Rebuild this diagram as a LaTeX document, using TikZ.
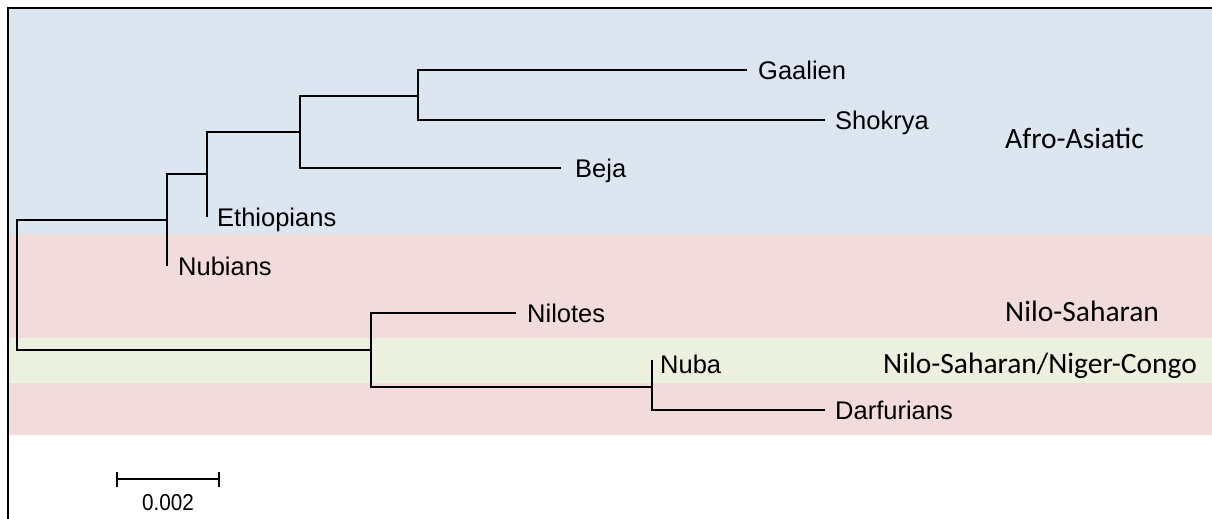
\documentclass[tikz,border=0pt]{standalone}
\usepackage{fontspec}
\setmainfont{Liberation Sans}
\newfontfamily\calib{Carlito}
\definecolor{bandblue}{HTML}{DCE6F1}
\definecolor{bandpink}{HTML}{F2DCDB}
\definecolor{bandgreen}{HTML}{EBF1DE}
\tikzset{
  branch/.style={line width=1.3pt, black},
  leaf/.style={anchor=base west, inner sep=0pt, font=\fontsize{25.5}{30}\selectfont},
  group/.style={anchor=base west, inner sep=0pt, font=\calib\fontsize{29.5}{34}\selectfont},
  scalelbl/.style={anchor=base, inner sep=0pt, font=\fontsize{23}{27}\selectfont},
}
\begin{document}
\begin{tikzpicture}[x=1pt,y=-1pt]
\useasboundingbox (0,0) rectangle (1212,519);
% bands
\fill[bandblue]  (9,9)   rectangle (1212,234);
\fill[bandpink]  (9,234) rectangle (1212,338);
\fill[bandgreen] (9,338) rectangle (1212,383);
\fill[bandpink]  (9,383) rectangle (1212,435);
% frame
\draw[line width=2.2pt] (1212,8) -- (8,8) -- (8,519);
% internal nodes (x of vertical, y where parent branch joins)
\coordinate (root) at (17,285);
\coordinate (n1) at (167,220);
\coordinate (n2) at (207,174);
\coordinate (n3) at (300,132);
\coordinate (n4) at (418,96);
\coordinate (n5) at (371,350);
\coordinate (n6) at (652,387);
% leaves (branch ends)
\coordinate (gaal) at (747,70);
\coordinate (shok) at (825,120);
\coordinate (beja) at (561,168);
\coordinate (ethi) at (207,217);
\coordinate (nubi) at (167,266);
\coordinate (nilo) at (516,313);
\coordinate (nuba) at (652,360);
\coordinate (darf) at (825,410);
% branches
\draw[branch] (root) |- (n1);
\draw[branch] (root) |- (n5);
\draw[branch] (n1) |- (n2);
\draw[branch] (n1) |- (nubi);
\draw[branch] (n2) |- (n3);
\draw[branch] (n2) |- (ethi);
\draw[branch] (n3) |- (n4);
\draw[branch] (n3) |- (beja);
\draw[branch] (n4) |- (gaal);
\draw[branch] (n4) |- (shok);
\draw[branch] (n5) |- (nilo);
\draw[branch] (n5) |- (n6);
\draw[branch] (n6) |- (nuba);
\draw[branch] (n6) |- (darf);
% leaf labels
\node[leaf] (Lgaal) at (758,79) {Gaalien};
\node[leaf] (Lshok) at (835,129) {Shokrya};
\node[leaf] (Lbeja) at (575,177) {Beja};
\node[leaf] (Lethi) at (217,226) {Ethiopians};
\node[leaf] (Lnubi) at (178,275) {Nubians};
\node[leaf] (Lnilo) at (527,322) {Nilotes};
\node[leaf] (Lnuba) at (660,373) {Nuba};
\node[leaf] (Ldarf) at (835,419) {Darfurians};
% group labels
\node[group] (Gaa) at (1005,148) {Afro-Asiatic};
\node[group] (Gns) at (1005,321) {Nilo-Saharan};
\node[group] (Gnc) at (883,373) {Nilo-Saharan/Niger-Congo};
% scale bar
\coordinate (sbL) at (117,479);
\coordinate (sbR) at (219,479);
\draw[line width=1.3pt] (sbL) -- (sbR);
\draw[line width=1.3pt] ([yshift=-7.5pt]sbL) -- ([yshift=7.5pt]sbL);
\draw[line width=1.3pt] ([yshift=-7.5pt]sbR) -- ([yshift=7.5pt]sbR);
\node[scalelbl] (sbT) at (168,510) {\scalebox{0.9}[1]{0.002}};
\end{tikzpicture}
\end{document}
